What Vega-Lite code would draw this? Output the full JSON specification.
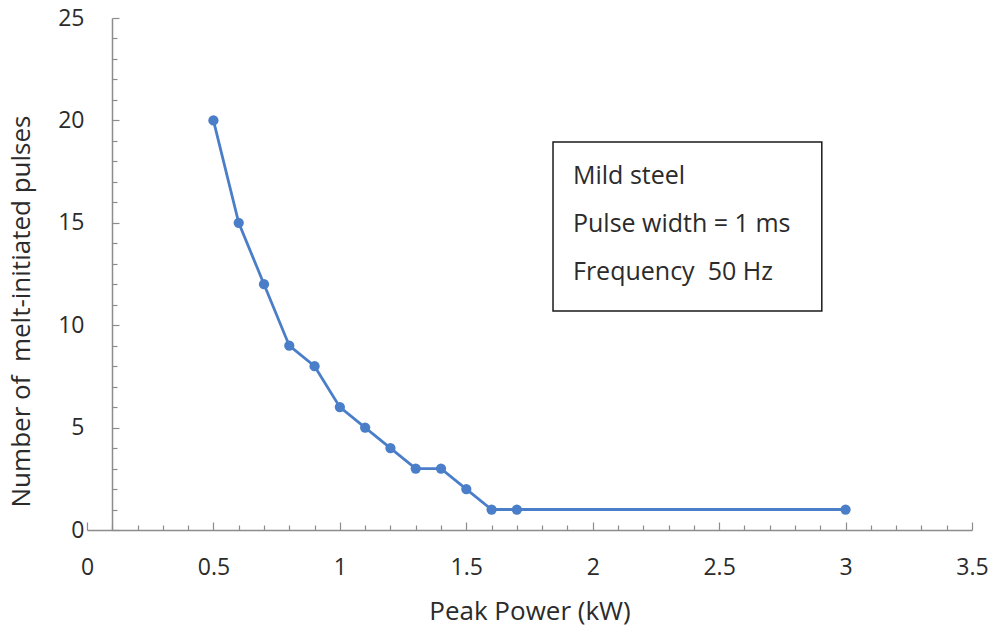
{
  "$schema": "https://vega.github.io/schema/vega-lite/v6.json",
  "width": 885,
  "height": 512,
  "autosize": {"type": "none"},
  "padding": {"left": 87, "top": 18, "right": 17, "bottom": 97},
  "background": "white",
  "config": {
    "view": {"stroke": null},
    "font": "Open Sans",
    "axis": {
      "domainColor": "#8c8c8c",
      "domainWidth": 1.5,
      "tickColor": "#8c8c8c",
      "tickWidth": 1.2,
      "grid": false,
      "labelColor": "#2b2b2b",
      "labelFontSize": 23,
      "titleColor": "#2b2b2b",
      "titleFontSize": 26,
      "titleFontWeight": "normal",
      "labelFont": "Open Sans",
      "titleFont": "Open Sans",
      "labelOverlap": false
    }
  },
  "data": {
    "values": [
      {"power": 0.5, "pulses": 20},
      {"power": 0.6, "pulses": 15},
      {"power": 0.7, "pulses": 12},
      {"power": 0.8, "pulses": 9},
      {"power": 0.9, "pulses": 8},
      {"power": 1.0, "pulses": 6},
      {"power": 1.1, "pulses": 5},
      {"power": 1.2, "pulses": 4},
      {"power": 1.3, "pulses": 3},
      {"power": 1.4, "pulses": 3},
      {"power": 1.5, "pulses": 2},
      {"power": 1.6, "pulses": 1},
      {"power": 1.7, "pulses": 1},
      {"power": 3.0, "pulses": 1}
    ]
  },
  "layer": [
    {
      "mark": {"type": "line", "color": "#4a7ec8", "strokeWidth": 2.8, "point": {"filled": true, "color": "#4a7ec8", "size": 105}},
      "encoding": {
        "x": {
          "field": "power", "type": "quantitative",
          "scale": {"domain": [0, 3.5], "nice": false, "zero": false},
          "axis": {
            "title": "Peak Power (kW)",
            "values": [0,0.1,0.2,0.3,0.4,0.5,0.6,0.7,0.8,0.9,1,1.1,1.2,1.3,1.4,1.5,1.6,1.7,1.8,1.9,2,2.1,2.2,2.3,2.4,2.5,2.6,2.7,2.8,2.9,3,3.1,3.2,3.3,3.4,3.5],
            "tickCount": 200,
            "format": ".2~f",
            "labelExpr": "abs(datum.value*2 - round(datum.value*2)) < 0.001 ? datum.label : ''",
            "labelPadding": 34,
            "tickSize": {"condition": {"test": "abs(datum.value*2 - round(datum.value*2)) < 0.001", "value": -8}, "value": -5},
            "labelFlush": false,
            "labelOverlap": false,
            "titlePadding": 16
          }
        },
        "y": {
          "field": "pulses", "type": "quantitative",
          "scale": {"domain": [0, 25], "nice": false},
          "axis": {
            "title": "Number of \u00a0melt-initiated pulses",
            "values": [0,1,2,3,4,5,6,7,8,9,10,11,12,13,14,15,16,17,18,19,20,21,22,23,24,25],
            "tickCount": 200,
            "format": "d",
            "labelExpr": "datum.value % 5 == 0 ? datum.label : ''",
            "offset": -25,
            "labelPadding": 35,
            "tickSize": {"condition": {"test": "datum.value % 5 == 0", "value": -7}, "value": -5},
            "labelFlush": false,
            "labelOverlap": false,
            "titleX": -78,
            "titleY": 293
          }
        }
      }
    },
    {
      "data": {"values": [{}]},
      "mark": {"type": "rect", "fill": "white", "stroke": "#1a1a1a", "strokeWidth": 1.5},
      "encoding": {
        "x": {"datum": 1.843, "type": "quantitative"},
        "x2": {"datum": 2.906},
        "y": {"datum": 18.95, "type": "quantitative"},
        "y2": {"datum": 10.69}
      }
    },
    {
      "data": {"values": [{}]},
      "mark": {"type": "text", "align": "left", "baseline": "middle", "fontSize": 25, "font": "Open Sans", "fontWeight": "normal", "color": "#2b2b2b"},
      "encoding": {
        "x": {"datum": 1.922, "type": "quantitative"},
        "y": {"datum": 17.3, "type": "quantitative"},
        "text": {"value": "Mild steel"}
      }
    },
    {
      "data": {"values": [{}]},
      "mark": {"type": "text", "align": "left", "baseline": "middle", "fontSize": 25, "font": "Open Sans", "fontWeight": "normal", "color": "#2b2b2b"},
      "encoding": {
        "x": {"datum": 1.922, "type": "quantitative"},
        "y": {"datum": 14.95, "type": "quantitative"},
        "text": {"value": "Pulse width = 1 ms"}
      }
    },
    {
      "data": {"values": [{}]},
      "mark": {"type": "text", "align": "left", "baseline": "middle", "fontSize": 25, "font": "Open Sans", "fontWeight": "normal", "color": "#2b2b2b"},
      "encoding": {
        "x": {"datum": 1.922, "type": "quantitative"},
        "y": {"datum": 12.6, "type": "quantitative"},
        "text": {"value": "Frequency \u00a050 Hz"}
      }
    }
  ]
}
